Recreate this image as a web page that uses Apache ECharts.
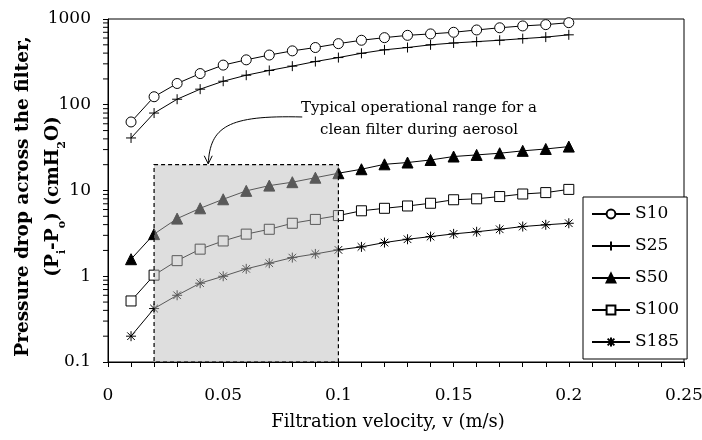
<!DOCTYPE html>
<html><head><meta charset="utf-8">
<script src="https://cdn.jsdelivr.net/npm/echarts@6/dist/echarts.min.js"></script>
<style>html,body{margin:0;padding:0;background:#fff}#c{width:702px;height:440px}</style>
</head><body><div id="c"></div>
<script>
// ---- data ----
const velocity = [0.01,0.02,0.03,0.04,0.05,0.06,0.07,0.08,0.09,0.10,0.11,0.12,0.13,0.14,0.15,0.16,0.17,0.18,0.19,0.20];
const S10  = [63,124,177,231,290,334,380,425,465,516,565,606,645,670,700,745,790,830,860,906];
const S25  = [41,80,116,152,188,221,251,282,319,355,398,437,465,500,525,545,565,590,615,654];
const S50  = [1.58,3.1,4.7,6.2,7.9,9.9,11.4,12.5,14.1,15.9,17.7,20.2,21.2,22.7,24.9,26,27.2,29,30.5,32.5];
const S100 = [0.515,1.03,1.52,2.07,2.58,3.1,3.53,4.15,4.6,5.1,5.8,6.2,6.6,7.1,7.8,8.0,8.5,9.1,9.45,10.3];
const S185 = [0.2,0.42,0.6,0.83,1.0,1.22,1.42,1.65,1.82,2.03,2.2,2.47,2.7,2.9,3.12,3.3,3.53,3.8,3.98,4.15];
const seriesNames = ['S10','S25','S50','S100','S185'];
const shadeRange = [0.02, 0.1, 0.1, 20];   // x0, x1, y0, y1
const yMinorTicks = [0.2,0.3,0.4,0.5,0.6,0.7,0.8,0.9,2,3,4,5,6,7,8,9,20,30,40,50,60,70,80,90,200,300,400,500,600,700,800,900];
const annotationLines = ['Typical operational range for a', 'clean filter during aerosol'];
const annotationAnchor = [0.135, 68];
const arrowFrom = [0.0843, 72];
const arrowTo = [0.0435, 20.5];

const F = '"DejaVu Serif",serif';
const chart = echarts.init(document.getElementById('c'), null, {renderer:'canvas'});

const PLUS = 'path://M0,5L10,5M5,0L5,10';
const STAR = 'path://M5,0L5,10M1.2,1.2L8.8,8.8M8.8,1.2L1.2,8.8M0,5L10,5';

function mk(name, vals, symbol, fill, size) {
  return {
    name, type:'line', data: velocity.map((v,i)=>[v, vals[i]]),
    symbol, symbolSize:size, showSymbol:true,
    lineStyle:{color:'#000', width:1},
    itemStyle:{color:fill, borderColor:'#000', borderWidth:1},
    z:3, animation:false
  };
}

const option = {
  animation:false,
  backgroundColor:'#fff',
  grid:{left:108, right:18, top:19, bottom:78, show:true, borderColor:'#000', borderWidth:1, backgroundColor:'transparent',
    containLabel:false, outerBoundsMode:'none'},
  xAxis:{
    type:'value', min:0, max:0.25, interval:0.05,
    axisLine:{show:true, onZero:false, lineStyle:{color:'#000', width:1}},
    axisTick:{show:true, length:5, inside:false, lineStyle:{color:'#000'}},
    minorTick:{show:true, splitNumber:5, length:5, lineStyle:{color:'#000'}},
    splitLine:{show:false},
    axisLabel:{color:'#000', fontFamily:F, fontSize:17, margin:25,
      formatter:v=>String(+v.toFixed(2))},
    name:'Filtration velocity, v (m/s)', nameLocation:'middle', nameGap:51, nameMoveOverlap:false,
    nameTextStyle:{color:'#000', fontFamily:F, fontSize:18, padding:[0,16,0,0]}
  },
  yAxis:{
    type:'log', logBase:10, min:0.1, max:1000,
    axisLine:{show:true, lineStyle:{color:'#000', width:1}},
    axisTick:{show:true, length:5, lineStyle:{color:'#000'}},
    splitLine:{show:false},
    axisLabel:{color:'#000', fontFamily:F, fontSize:17, margin:17,
      formatter:v=>String(+(+v).toPrecision(6))},
    name:'{b|Pressure drop across the filter,}\n{b|(P}{s|i}{b|-P}{s|o}{b|) (cmH}{s|2}{b|O)}',
    nameLocation:'middle', nameGap:40, nameRotate:90, nameMoveOverlap:false,
    nameTextStyle:{color:'#000', fontFamily:F, fontSize:18.5, fontWeight:'bold', lineHeight:30, padding:[0,12,0,0],
      rich:{
        b:{fontFamily:F, fontSize:18.5, fontWeight:'bold', color:'#000', lineHeight:30},
        s:{fontFamily:F, fontSize:11, fontWeight:'bold', color:'#000', lineHeight:30, verticalAlign:'bottom'}
      }}
  },
  legend:{
    orient:'vertical', left:583, top:197, data:seriesNames,
    itemWidth:38, itemHeight:11, itemGap:12,
    padding:[7,8,7,8],
    backgroundColor:'#fff', borderColor:'#000', borderWidth:1,
    textStyle:{color:'#000', fontFamily:F, fontSize:17, lineHeight:20},
    inactiveColor:'#000'
  },
  series:[
    mk('S10', S10, 'circle', '#fff', 10),
    mk('S25', S25, PLUS, '#000', 10),
    mk('S50', S50, 'triangle', '#000', 11),
    mk('S100', S100, 'rect', '#fff', 10),
    mk('S185', S185, STAR, '#000', 10),
    {
      type:'custom', name:'shade', z:6, silent:true, clip:false,
      data:[shadeRange],
      encode:{x:[0,1], y:[2,3]},
      renderItem:(params, api)=>{
        const p0 = api.coord([api.value(0), api.value(3)]);
        const p1 = api.coord([api.value(1), api.value(2)]);
        return {type:'rect', shape:{x:p0[0], y:p0[1], width:p1[0]-p0[0], height:p1[1]-p0[1]},
          style:{fill:'rgba(185,185,185,0.48)', stroke:'#000', lineWidth:1.2, lineDash:[4,3]}};
      }
    },
    {
      type:'custom', name:'yminor', z:6, silent:true, clip:false,
      data:yMinorTicks.map(v=>[0,v]),
      renderItem:(params, api)=>{
        const p = api.coord([0, api.value(1)]);
        return {type:'line', shape:{x1:p[0]-5, y1:p[1], x2:p[0], y2:p[1]}, style:{stroke:'#000', lineWidth:1}};
      }
    }
  ]
};
chart.setOption(option);

// annotation anchored to data coordinates
const tp = chart.convertToPixel({gridIndex:0}, annotationAnchor);
const a0 = chart.convertToPixel({gridIndex:0}, arrowFrom);
const a1 = chart.convertToPixel({gridIndex:0}, arrowTo);
chart.setOption({graphic:[
  {type:'text', x:tp[0], y:tp[1], style:{text:annotationLines.join('\n'), fill:'#000', font:'15px '+F, align:'center', verticalAlign:'middle', lineHeight:22}, z:20},
  {type:'bezierCurve', shape:{x1:a0[0], y1:a0[1], cpx1:a0[0]-75, cpy1:a0[1]-2, cpx2:a1[0]+2, cpy2:a0[1]+10, x2:a1[0], y2:a1[1]}, style:{stroke:'#000', lineWidth:1, fill:null}, z:20},
  {type:'polyline', shape:{points:[[a1[0]-4, a1[1]-8],[a1[0], a1[1]],[a1[0]+4, a1[1]-8]]}, style:{stroke:'#000', lineWidth:1, fill:null}, z:20}
]});
</script>
</body></html>
